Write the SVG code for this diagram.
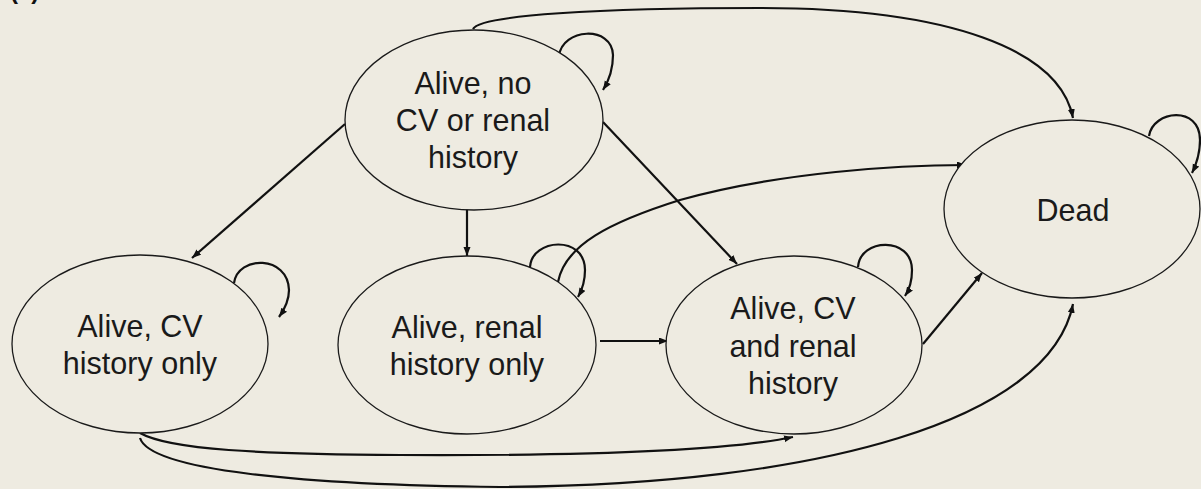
<svg xmlns="http://www.w3.org/2000/svg" width="1201" height="489" viewBox="0 0 1201 489">
<style>
.node ellipse{fill:#EEEBE1;stroke:#1a1a1a;stroke-width:1.3}
.node text{font-family:"Liberation Sans",Arial,sans-serif;font-size:30.5px;fill:#1a1a1a;text-anchor:middle}
.edges path{fill:none;stroke:#111;stroke-width:2.2;marker-end:url(#arr)}
</style>
<defs>
<marker id="arr" markerUnits="userSpaceOnUse" markerWidth="10" markerHeight="8" refX="9" refY="3.5" orient="auto">
<path d="M0,0 L9,3.5 L0,7 z" fill="#111"/>
</marker>
</defs>
<rect width="1201" height="489" fill="#EEEBE1"/>
<text x="10" y="-1" font-family="Liberation Sans,Arial,sans-serif" font-size="24" font-weight="bold" fill="#111">(a)</text>
<g class="edges">
<path d="M473,29 C480,15 600,8 760,8 C950,8 1060,50 1073,118"/>
<path d="M559,56 C562,28 612,25 613,55 C613,70 608,82 603,90"/>
<path d="M1149,136 C1153,110 1200,105 1200,140 C1200,155 1196,165 1192,173"/>
<path d="M234,283 C238,255 288,255 289,290 C289,300 284,310 279,317"/>
<path d="M530,267 C532,238 585,235 585,270 C585,280 582,290 578,297"/>
<path d="M858,267 C860,238 912,236 912,270 C912,280 909,290 905,296"/>
<path d="M345,124 L192,258"/>
<path d="M467,209 L467,256"/>
<path d="M603,122 L737,264"/>
<path d="M600,341 L668,341"/>
<path d="M923,344 L982,273"/>
<path d="M558,282 C565,245 610,222 680,200 C780,172 900,165 966,165"/>
<path d="M140,433 C170,450 260,454 400,455 C600,456 730,450 793,437"/>
<path d="M140,438 C150,470 300,485 500,487 C820,485 1050,420 1073,304"/>
</g>
<g id="n_none" class="node">
<ellipse cx="474" cy="120" rx="129" ry="90"/>
<text x="473" y="94">Alive, no</text>
<text x="473" y="131">CV or renal</text>
<text x="473" y="168">history</text>
</g>
<g id="n_dead" class="node">
<ellipse cx="1072" cy="209" rx="128" ry="89"/>
<text x="1073" y="221">Dead</text>
</g>
<g id="n_cv" class="node">
<ellipse cx="140" cy="344" rx="128" ry="89"/>
<text x="140" y="337">Alive, CV</text>
<text x="140" y="374">history only</text>
</g>
<g id="n_renal" class="node">
<ellipse cx="467" cy="345" rx="129" ry="89"/>
<text x="467" y="338">Alive, renal</text>
<text x="467" y="375">history only</text>
</g>
<g id="n_both" class="node">
<ellipse cx="794" cy="345" rx="128" ry="89"/>
<text x="793" y="319">Alive, CV</text>
<text x="793" y="357">and renal</text>
<text x="793" y="394">history</text>
</g>
</svg>
